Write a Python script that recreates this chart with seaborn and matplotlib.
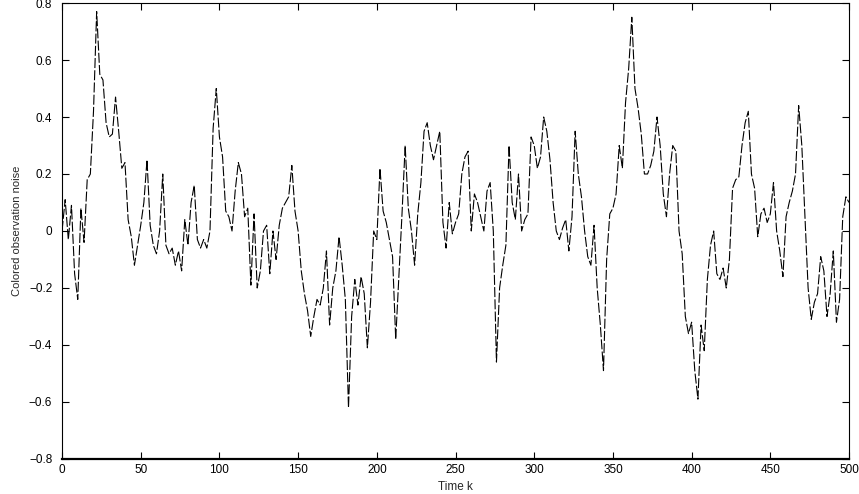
import numpy as np
import pandas as pd
import matplotlib
matplotlib.use("Agg")
import matplotlib.pyplot as plt
import seaborn as sns

# time index (every 2nd sample)
time_k = list(range(0, 501, 2))

# colored observation noise values
noise = [
    0.00, 0.11, -0.03, 0.09, -0.15, -0.24, 0.08, -0.04, 0.18, 0.20,
    0.42, 0.77, 0.55, 0.53, 0.38, 0.33, 0.34, 0.47, 0.35, 0.22,
    0.24, 0.04, -0.02, -0.12, -0.05, 0.02, 0.10, 0.25, 0.02, -0.05,
    -0.08, 0.00, 0.20, -0.05, -0.08, -0.06, -0.12, -0.07, -0.14, 0.04,
    -0.05, 0.10, 0.16, -0.03, -0.06, -0.03, -0.06, 0.00, 0.36, 0.50,
    0.33, 0.26, 0.07, 0.05, 0.00, 0.14, 0.24, 0.20, 0.05, 0.08,
    -0.19, 0.06, -0.20, -0.14, 0.00, 0.02, -0.15, 0.00, -0.10, 0.02,
    0.08, 0.10, 0.12, 0.23, 0.07, 0.00, -0.14, -0.22, -0.28, -0.37,
    -0.30, -0.24, -0.26, -0.20, -0.07, -0.33, -0.20, -0.14, -0.02, -0.12,
    -0.24, -0.62, -0.30, -0.17, -0.26, -0.16, -0.22, -0.41, -0.25, 0.00,
    -0.03, 0.22, 0.07, 0.03, -0.03, -0.09, -0.38, -0.16, 0.06, 0.30,
    0.08, 0.00, -0.12, 0.06, 0.17, 0.35, 0.38, 0.30, 0.25, 0.30,
    0.35, 0.03, -0.06, 0.10, -0.01, 0.03, 0.06, 0.20, 0.26, 0.28,
    0.00, 0.13, 0.10, 0.05, 0.00, 0.14, 0.17, 0.00, -0.46, -0.20,
    -0.12, -0.05, 0.30, 0.10, 0.04, 0.20, 0.00, 0.04, 0.06, 0.33,
    0.30, 0.22, 0.26, 0.40, 0.35, 0.25, 0.10, 0.00, -0.03, 0.01,
    0.04, -0.07, 0.05, 0.35, 0.20, 0.12, 0.00, -0.09, -0.12, 0.02,
    -0.20, -0.33, -0.49, -0.10, 0.06, 0.08, 0.13, 0.30, 0.22, 0.45,
    0.57, 0.75, 0.50, 0.43, 0.34, 0.20, 0.20, 0.23, 0.28, 0.40,
    0.30, 0.13, 0.05, 0.20, 0.30, 0.28, 0.00, -0.08, -0.30, -0.36,
    -0.32, -0.49, -0.59, -0.33, -0.42, -0.17, -0.05, 0.00, -0.15, -0.17,
    -0.13, -0.20, -0.10, 0.15, 0.18, 0.19, 0.30, 0.38, 0.42, 0.20,
    0.15, -0.02, 0.06, 0.08, 0.03, 0.06, 0.17, 0.00, -0.07, -0.16,
    0.05, 0.10, 0.14, 0.20, 0.44, 0.30, 0.05, -0.20, -0.31, -0.25,
    -0.22, -0.09, -0.14, -0.30, -0.22, -0.07, -0.32, -0.24, 0.05, 0.12,
    0.10,
]

x_ticks = [0, 50, 100, 150, 200, 250, 300, 350, 400, 450, 500]
y_ticks = [-0.8, -0.6, -0.4, -0.2, 0, 0.2, 0.4, 0.6, 0.8]

df = pd.DataFrame({"k": time_k, "noise": noise})

sns.set_style("ticks")
plt.rcParams["font.family"] = ["Liberation Sans", "DejaVu Sans"]

fig = plt.figure(figsize=(8.59, 4.94), dpi=100)
ax = fig.add_axes([0.0722, 0.0709, 0.9162, 0.9230])

sns.lineplot(data=df, x="k", y="noise", ax=ax, color="black",
             linewidth=0.8, linestyle=(0, (9, 2)))

ax.set_xlim(0, 500)
ax.set_ylim(-0.8, 0.8)
ax.set_xticks(x_ticks)
ax.set_yticks(y_ticks)
ax.set_yticklabels(["0" if v == 0 else f"{v:.1f}".replace("-", "\u2212") for v in y_ticks])
ax.tick_params(direction="in", top=True, right=True, length=5, width=0.8,
               labelsize=8.5, colors="black")
ax.tick_params(axis="y", pad=7)
for s in ax.spines.values():
    s.set_linewidth(0.8)
    s.set_color("black")
ax.spines["bottom"].set_linewidth(1.6)

ax.set_xlabel("Time k", fontsize=8.5, labelpad=4)
ax.set_ylabel("Colored observation noise", fontsize=8, labelpad=5)

fig.savefig("out.png", dpi=100)
